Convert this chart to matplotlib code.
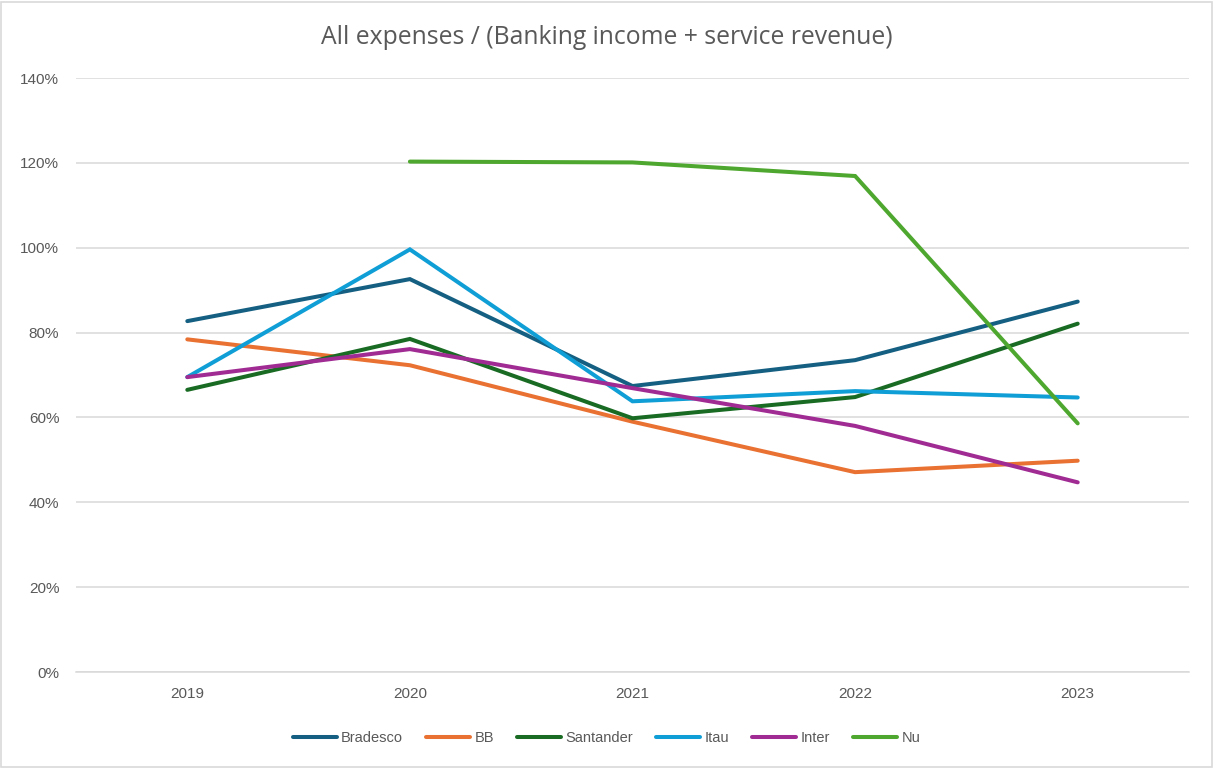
import matplotlib

matplotlib.use("Agg")

import matplotlib.pyplot as plt
import numpy as np
from matplotlib.patches import Rectangle
from matplotlib.ticker import FuncFormatter

years = ["2019", "2020", "2021", "2022", "2023"]

bradesco = [82.7, 92.6, 67.4, 73.5, 87.3]
bb = [78.4, 72.3, 59.0, 47.1, 49.8]
santander = [66.5, 78.5, 59.8, 64.8, 82.1]
itau = [69.5, 99.6, 63.8, 66.2, 64.7]
inter = [69.5, 76.1, 66.9, 58.0, 44.7]
nu = [np.nan, 120.3, 120.1, 116.9, 58.6]

series = [
    ("Bradesco", bradesco, "#156082"),
    ("BB", bb, "#E97132"),
    ("Santander", santander, "#196B24"),
    ("Itau", itau, "#0F9ED5"),
    ("Inter", inter, "#A02B93"),
    ("Nu", nu, "#4EA72E"),
]

GRID = "#D9D9D9"
TEXT = "#595959"

plt.rcParams["font.family"] = ["Liberation Sans", "DejaVu Sans"]

fig = plt.figure(figsize=(12.13, 7.69), dpi=100)
ax = fig.add_axes([76 / 1213, 1 - 672 / 769, (1189 - 76) / 1213, (672 - 78) / 769])

x = np.arange(len(years))
for name, vals, color in series:
    ax.plot(x, vals, color=color, linewidth=2.9, label=name,
            solid_capstyle="round", solid_joinstyle="miter")

ax.set_xlim(-0.5, len(years) - 0.5)
ax.set_ylim(0, 140)
ax.set_yticks(np.arange(0, 141, 20))
ax.yaxis.set_major_formatter(FuncFormatter(lambda v, _: f"{v:.0f}%"))
ax.set_xticks(x)
ax.set_xticklabels(years)

ax.grid(axis="y", color=GRID, linewidth=1.1)
ax.set_axisbelow(True)
for side in ["top", "right", "left"]:
    ax.spines[side].set_visible(False)
ax.spines["bottom"].set_color(GRID)
ax.spines["bottom"].set_linewidth(1.1)
ax.tick_params(axis="both", length=0, colors=TEXT, labelsize=11)
ax.tick_params(axis="x", pad=11)
ax.tick_params(axis="y", pad=12)

fig.text(0.5, 1 - 37 / 769, "All expenses / (Banking income + service revenue)",
         ha="center", va="center", fontsize=17.8, color=TEXT, family="Open Sans")

leg = fig.legend(loc="center", bbox_to_anchor=(0.5, 1 - 738 / 769), ncol=6,
                 frameon=False, fontsize=10.5, handlelength=3.0, handletextpad=0.3,
                 columnspacing=1.6)
for t in leg.get_texts():
    t.set_color(TEXT)

fig.patches.append(Rectangle((0.001, 0.002), 0.998, 0.996, transform=fig.transFigure,
                             fill=False, edgecolor=GRID, linewidth=1.2))

fig.savefig("out.png", dpi=100)
